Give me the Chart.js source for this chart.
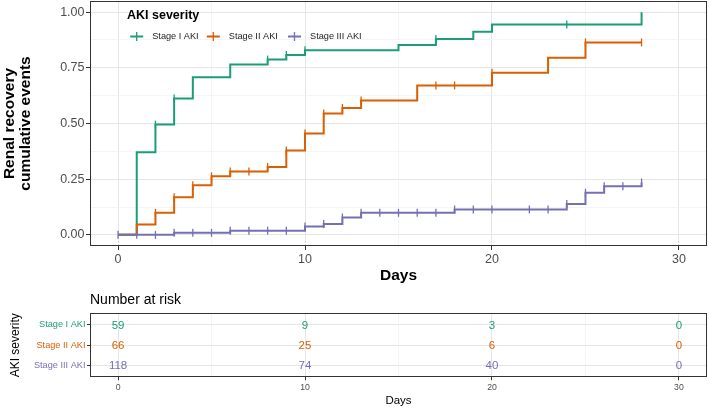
<!DOCTYPE html>
<html>
<head>
<meta charset="utf-8">
<script src="https://cdn.jsdelivr.net/npm/chart.js@4.4.0/dist/chart.umd.min.js"></script>
<style>
  body { margin: 0; background: #fff; }
  canvas { display: block; }
</style>
</head>
<body>
<canvas id="km" width="709" height="290"></canvas>
<canvas id="risk" width="709" height="119"></canvas>
<script>
const strata = ['Stage I AKI', 'Stage II AKI', 'Stage III AKI'];
const strataColors = ['#1B9E77', '#D95F02', '#7570B3'];

// cumulative event curves (step after each event time)
const stage1Times = [0, 1, 2, 3, 4, 6, 8, 9, 10, 15, 17, 19, 20, 28];
const stage1Cum = [0, 0.371, 0.495, 0.612, 0.708, 0.765, 0.787, 0.807, 0.829, 0.852, 0.879, 0.912, 0.945, 1.0];
const stage1Censor = [2, 3, 8, 9, 10, 17, 24];

const stage2Times = [0, 1, 2, 3, 4, 5, 6, 8, 9, 10, 11, 12, 13, 16, 20, 23, 25, 28];
const stage2Cum = [0, 0.046, 0.099, 0.169, 0.223, 0.263, 0.284, 0.305, 0.379, 0.455, 0.545, 0.570, 0.603, 0.671, 0.728, 0.795, 0.864, 0.864];
const stage2Censor = [2, 3, 4, 5, 6, 7, 8, 9, 10, 11, 12, 13, 17, 18, 20, 25, 28];

const stage3Times = [0, 3, 6, 10, 11, 12, 13, 18, 24, 25, 26, 28];
const stage3Cum = [0, 0.009, 0.019, 0.037, 0.049, 0.078, 0.099, 0.114, 0.139, 0.189, 0.218, 0.235];
const stage3Censor = [0, 1, 2, 3, 4, 5, 6, 7, 8, 9, 10, 11, 12, 13, 14, 15, 16, 17, 18, 19, 20, 22, 23, 24, 25, 26, 27, 28];

// number at risk table
const riskTimes = [0, 10, 20, 30];
const riskStage1 = [59, 9, 3, 0];
const riskStage2 = [66, 25, 6, 0];
const riskStage3 = [118, 74, 40, 0];

const dayTicks = [0, 5, 10, 15, 20, 25, 30];
const cumTicks = [0, 0.125, 0.25, 0.375, 0.5, 0.625, 0.75, 0.875, 1];

Chart.defaults.font.family = '"Liberation Sans", Arial, sans-serif';
Chart.defaults.color = '#4D4D4D';

const curves = [
  { times: stage1Times, cum: stage1Cum, censor: stage1Censor },
  { times: stage2Times, cum: stage2Cum, censor: stage2Censor },
  { times: stage3Times, cum: stage3Cum, censor: stage3Censor }
];

function levelAt(curve, t) {
  let y = 0;
  curve.times.forEach((time, i) => { if (time <= t) y = curve.cum[i]; });
  return y;
}

const kmDatasets = [];
curves.forEach((c, i) => {
  kmDatasets.push({
    label: strata[i],
    data: c.times.map((t, j) => ({ x: t, y: c.cum[j] })),
    borderColor: strataColors[i],
    borderWidth: 2,
    stepped: 'before',
    pointRadius: 0,
    fill: false,
    order: 10 - 2 * i
  });
  kmDatasets.push({
    label: strata[i] + ' censored',
    data: c.censor.map(t => ({ x: t, y: levelAt(c, t) })),
    showLine: false,
    pointStyle: 'line',
    rotation: 90,
    pointRadius: 4,
    pointBorderWidth: 1.3,
    pointBorderColor: strataColors[i],
    borderColor: strataColors[i],
    order: 9 - 2 * i
  });
});

const isMajorDay = v => v % 10 === 0;
const isMajorCum = v => Math.round(v * 8) % 2 === 0;

// keep the panel edges where they are, whatever the tick label sizes
const fitX = h => s => { s.height = h; s.paddingLeft = 0; s.paddingRight = 0; };
const fitY = w => s => { s.width = w; s.paddingTop = 0; s.paddingBottom = 0; };

const panelBorder = {
  id: 'panelBorder',
  afterDraw(chart) {
    const { ctx, chartArea: a } = chart;
    ctx.save();
    ctx.strokeStyle = '#333333';
    ctx.lineWidth = 1;
    ctx.strokeRect(Math.round(a.left) + 0.5, Math.round(a.top) + 0.5,
      Math.round(a.right - a.left) - 1, Math.round(a.bottom - a.top) - 1);
    ctx.restore();
  }
};

const kmLegend = {
  id: 'kmLegend',
  afterDraw(chart) {
    const ctx = chart.ctx;
    ctx.save();
    ctx.fillStyle = '#000';
    ctx.font = 'bold 12.5px "Liberation Sans", Arial, sans-serif';
    ctx.textBaseline = 'middle';
    ctx.fillText('AKI severity', 127, 15.5);
    const keyX = [136.7, 213.3, 294.5];
    const y = 36.5;
    ctx.font = '9.2px "Liberation Sans", Arial, sans-serif';
    strata.forEach((name, i) => {
      ctx.strokeStyle = strataColors[i];
      ctx.lineWidth = 2;
      ctx.beginPath();
      ctx.moveTo(keyX[i] - 6.5, y);
      ctx.lineTo(keyX[i] + 6.5, y);
      ctx.stroke();
      ctx.lineWidth = 1.3;
      ctx.beginPath();
      ctx.moveTo(keyX[i], y - 4.5);
      ctx.lineTo(keyX[i], y + 4.5);
      ctx.stroke();
      ctx.fillStyle = '#222';
      ctx.fillText(name, keyX[i] + 15.5, y);
    });
    ctx.restore();
  }
};

new Chart(document.getElementById('km'), {
  type: 'line',
  data: { datasets: kmDatasets },
  options: {
    responsive: false,
    animation: false,
    layout: { autoPadding: false, padding: { top: 1, right: 2, left: 0, bottom: 0 } },
    plugins: { legend: { display: false }, tooltip: { enabled: false } },
    scales: {
      x: {
        type: 'linear',
        min: -1.5,
        max: 31.5,
        afterBuildTicks: s => { s.ticks = dayTicks.map(v => ({ value: v })); },
        afterFit: fitX(44),
        border: { display: false },
        grid: {
          color: c => isMajorDay(c.tick.value) ? '#E6E6E6' : '#F0F0F0',
          lineWidth: c => isMajorDay(c.tick.value) ? 1 : 0.7,
          tickLength: 4,
          tickColor: c => isMajorDay(c.tick.value) ? '#333333' : 'rgba(0,0,0,0)',
          tickWidth: 1
        },
        ticks: {
          autoSkip: false,
          maxRotation: 0,
          padding: 2,
          color: '#4D4D4D',
          font: { size: 12.5 },
          callback: v => isMajorDay(v) ? v : ''
        },
        title: {
          display: true,
          text: 'Days',
          color: '#000',
          font: { size: 15.5, weight: 'bold' },
          padding: { top: 0, bottom: 5 }
        }
      },
      y: {
        type: 'linear',
        min: -0.05,
        max: 1.05,
        afterBuildTicks: s => { s.ticks = cumTicks.map(v => ({ value: v })); },
        afterFit: fitY(90),
        border: { display: false },
        grid: {
          color: c => isMajorCum(c.tick.value) ? '#E6E6E6' : '#F0F0F0',
          lineWidth: c => isMajorCum(c.tick.value) ? 1 : 0.7,
          tickLength: 4,
          tickColor: c => isMajorCum(c.tick.value) ? '#333333' : 'rgba(0,0,0,0)',
          tickWidth: 1
        },
        ticks: {
          autoSkip: false,
          padding: 1.5,
          color: '#4D4D4D',
          font: { size: 12.5 },
          callback: v => isMajorCum(v) ? v.toFixed(2) : ''
        },
        title: {
          display: true,
          text: ['Renal recovery', 'cumulative events'],
          color: '#000',
          font: { size: 15.5, weight: 'bold', lineHeight: '16.5px' },
          padding: { top: 1, bottom: 0 }
        }
      }
    }
  },
  plugins: [panelBorder, kmLegend]
});

// number at risk
const riskRows = [riskStage1, riskStage2, riskStage3];
const riskDatasets = riskRows.map((row, i) => ({
  label: strata[i],
  data: riskTimes.map((t, j) => ({ x: t, y: i + 1, n: row[j] })),
  pointRadius: 0,
  showLine: false
}));

const riskLabels = {
  id: 'riskLabels',
  afterDatasetsDraw(chart) {
    const ctx = chart.ctx;
    ctx.save();
    ctx.font = '11.5px "Liberation Sans", Arial, sans-serif';
    ctx.textAlign = 'center';
    ctx.textBaseline = 'middle';
    chart.data.datasets.forEach((ds, i) => {
      const meta = chart.getDatasetMeta(i);
      ctx.fillStyle = strataColors[i];
      meta.data.forEach((el, j) => {
        ctx.fillText(String(ds.data[j].n), el.x, el.y + 0.5);
      });
    });
    ctx.fillStyle = '#000';
    ctx.textAlign = 'left';
    ctx.font = '14px "Liberation Sans", Arial, sans-serif';
    ctx.fillText('Number at risk', chart.chartArea.left, 10);
    ctx.restore();
  }
};

new Chart(document.getElementById('risk'), {
  type: 'scatter',
  data: { datasets: riskDatasets },
  options: {
    responsive: false,
    animation: false,
    layout: { autoPadding: false, padding: { top: 23.3, right: 2, left: 0, bottom: 0 } },
    plugins: { legend: { display: false }, tooltip: { enabled: false } },
    scales: {
      x: {
        type: 'linear',
        min: -1.5,
        max: 31.5,
        afterBuildTicks: s => { s.ticks = dayTicks.map(v => ({ value: v })); },
        afterFit: fitX(31.7),
        border: { display: false },
        grid: {
          color: c => isMajorDay(c.tick.value) ? '#E6E6E6' : '#F0F0F0',
          lineWidth: c => isMajorDay(c.tick.value) ? 1 : 0.7,
          tickLength: 3,
          tickColor: c => isMajorDay(c.tick.value) ? '#333333' : 'rgba(0,0,0,0)'
        },
        ticks: {
          autoSkip: false,
          maxRotation: 0,
          padding: 2,
          color: '#4D4D4D',
          font: { size: 8.7 },
          callback: v => isMajorDay(v) ? v : ''
        },
        title: {
          display: true,
          text: 'Days',
          color: '#000',
          font: { size: 11.5 },
          padding: { top: 0, bottom: 1 }
        }
      },
      y: {
        type: 'linear',
        min: 0.43,
        max: 3.57,
        reverse: true,
        afterBuildTicks: s => { s.ticks = [1, 2, 3].map(v => ({ value: v })); },
        afterFit: fitY(90),
        border: { display: false },
        grid: {
          color: '#E6E6E6',
          lineWidth: 1,
          tickLength: 3,
          tickColor: '#333333'
        },
        ticks: {
          autoSkip: false,
          padding: 1.5,
          color: c => strataColors[c.index],
          font: { size: 9.2 },
          callback: v => strata[v - 1]
        },
        title: {
          display: true,
          text: 'AKI severity',
          color: '#000',
          font: { size: 12 },
          padding: { top: 8, bottom: 0 }
        }
      }
    }
  },
  plugins: [panelBorder, riskLabels]
});
</script>
</body>
</html>
